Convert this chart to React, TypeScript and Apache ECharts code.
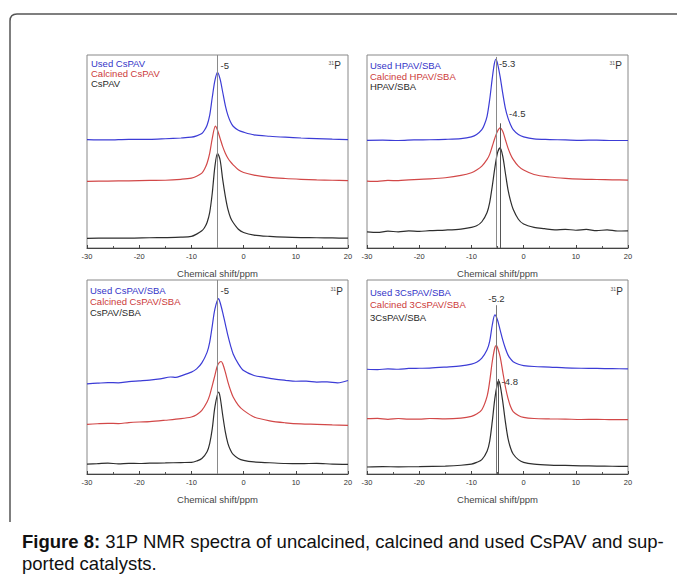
import React, { useEffect, useRef } from "react";
import * as echarts from "echarts";

// ---------- data (ppm, intensity on a 0-100 panel scale) ----------
const xMin = -30;
const xMax = 20;
const xInterval = 10;

const usedCsPAV = [[-30,56.2],[-26,56.0],[-22,56.3],[-18,56.3],[-15,56.6],[-12,57.0],[-10,57.4],[-9,58.1],[-8,59.3],[-7.5,61.0],[-7,63.6],[-6.5,68.7],[-6,78.1],[-5.5,86.7],[-5,91],[-4.5,87.5],[-4,80.7],[-3.5,73.8],[-3,68.7],[-2.5,65.3],[-2,63.1],[-1,61.0],[0,60.0],[2,58.6],[5,57.9],[8,57.4],[11,57.0],[14,56.7],[17,56.4],[20,56.2]];
const calcinedCsPAV = [[-30,34.5],[-26,34.7],[-22,34.8],[-18,35.0],[-15,35.1],[-12,35.6],[-10,36.2],[-9,37.2],[-8,38.8],[-7.5,40.8],[-7,43.9],[-6.5,49.0],[-6,56.8],[-5.4,63.1],[-5,61.0],[-4.5,56.8],[-4,52.5],[-3.5,49.1],[-3,46.5],[-2.5,44.6],[-2,43.1],[-1,40.5],[0,39.1],[2,37.8],[5,36.6],[8,36.0],[11,35.6],[14,35.3],[17,35.1],[20,34.9]];
const freshCsPAV = [[-30,5.0],[-26,5.1],[-22,5.1],[-18,5.3],[-15,5.4],[-12,5.6],[-10,6.0],[-9,7.2],[-8,8.9],[-7.5,10.5],[-7,13.2],[-6.5,18.3],[-6,28.5],[-5.5,42.2],[-5,49.1],[-4.5,45.6],[-4,35.4],[-3.5,26.8],[-3,20.0],[-2.5,15.7],[-2,13.2],[-1,9.7],[0,8.0],[2,6.7],[5,6.0],[8,5.6],[11,5.4],[14,5.3],[17,5.2],[20,5.1]];

const usedHPAV = [[-30,55.8],[-27,55.9],[-24,55.7],[-21,56.0],[-18,56.1],[-15,56.3],[-12,56.7],[-10,57.6],[-9,58.8],[-8,61.3],[-7.5,64.0],[-7,68.2],[-6.5,76.8],[-6,88.0],[-5.6,95.5],[-5.3,97.8],[-5,95.7],[-4.5,88.8],[-4,80.2],[-3.5,72.5],[-3,67.4],[-2.5,63.9],[-2,61.3],[-1,58.8],[0,57.6],[2,56.5],[5,56.2],[8,56.0],[11,55.8],[14,55.9],[17,55.7],[20,55.7]];
const calcinedHPAV = [[-30,34.7],[-28,34.5],[-26,35.0],[-24,34.9],[-22,35.3],[-20,35.6],[-18,35.8],[-15,36.4],[-12,37.6],[-10,39.0],[-9,40.4],[-8,42.4],[-7,45.9],[-6.5,48.5],[-6,52.7],[-5.5,57.0],[-5,60.5],[-4.5,62.2],[-4,60.5],[-3.5,56.2],[-3,51.9],[-2.5,48.5],[-2,45.9],[-1,42.4],[0,40.4],[2,38.1],[5,36.8],[8,36.1],[11,35.7],[14,35.5],[17,35.3],[20,35.2]];
const freshHPAV = [[-30,8.4],[-28,8.1],[-26,8.7],[-24,8.4],[-22,8.9],[-20,8.6],[-18,9.0],[-15,9.3],[-12,9.8],[-10,10.7],[-9,11.5],[-8,13.6],[-7,18.4],[-6.5,23.5],[-6,32.1],[-5.5,41.6],[-5,49.3],[-4.5,51.9],[-4,47.6],[-3.5,39.0],[-3,30.4],[-2.5,24.4],[-2,20.1],[-1,14.9],[0,12.4],[2,10.7],[4,10.0],[6,9.4],[8,9.7],[10,9.2],[12,9.6],[14,9.0],[16,9.4],[18,8.8],[20,8.9]];

const usedCsPAVSBA = [[-30,46.5],[-28,46.8],[-26,47.1],[-24,47.0],[-22,47.6],[-20,48.0],[-18,48.4],[-16,49.0],[-14,50.0],[-13,49.8],[-12,50.6],[-10,52.5],[-9,54.2],[-8,57.3],[-7,62.7],[-6.5,67.9],[-6,76.4],[-5.5,85.0],[-4.8,90.4],[-4.5,88.4],[-4,83.2],[-3.5,77.3],[-3,71.3],[-2.5,66.2],[-2,61.9],[-1,56.8],[0,53.3],[2,50.8],[4,49.8],[6,48.9],[8,48.3],[10,47.8],[12,47.9],[14,47.4],[16,47.5],[18,47.0],[20,48.2]];
const calcinedCsPAVSBA = [[-30,25.6],[-28,25.9],[-26,26.1],[-24,26.0],[-22,26.5],[-20,26.8],[-18,27.0],[-15,27.7],[-12,28.5],[-10,29.4],[-9,30.6],[-8,32.8],[-7,37.1],[-6.5,40.5],[-6,45.6],[-5.5,50.8],[-5,55.9],[-4.3,58.0],[-4,56.8],[-3.5,52.5],[-3,47.4],[-2.5,43.1],[-2,39.7],[-1,35.4],[0,32.8],[2,29.4],[5,27.4],[8,26.4],[11,25.8],[14,25.6],[17,25.3],[20,25.1]];
const freshCsPAVSBA = [[-30,5.1],[-28,5.3],[-26,5.6],[-24,5.2],[-22,5.5],[-20,5.4],[-18,5.6],[-15,5.7],[-12,5.9],[-10,6.0],[-9,6.7],[-8,8.0],[-7,11.5],[-6.5,15.7],[-6,23.4],[-5.5,34.5],[-4.8,42.2],[-4.5,39.7],[-4,30.3],[-3.5,21.7],[-3,15.7],[-2.5,12.3],[-2,10.1],[-1,8.0],[0,7.0],[2,6.2],[5,5.8],[8,5.4],[11,5.3],[14,5.5],[17,5.1],[20,5.0]];

const used3CsPAVSBA = [[-30,54.0],[-28,53.8],[-26,54.2],[-24,54.0],[-22,54.4],[-20,54.5],[-18,54.6],[-15,55.1],[-12,55.7],[-10,56.6],[-9,57.6],[-8,59.7],[-7,64.0],[-6.5,68.3],[-6,76.8],[-5.5,82.0],[-5,79.4],[-4.5,74.3],[-4,69.1],[-3.5,64.8],[-3,61.4],[-2.5,59.3],[-2,57.9],[-1,56.6],[0,55.9],[2,55.4],[5,55.1],[8,54.7],[11,54.5],[14,54.4],[17,54.3],[20,54.2]];
const calcined3CsPAVSBA = [[-30,28.5],[-28,28.7],[-26,28.2],[-24,28.6],[-22,28.3],[-20,28.3],[-18,28.6],[-15,28.4],[-12,28.8],[-10,29.7],[-9,30.9],[-8,33.1],[-7,40.0],[-6.5,47.7],[-6,58.0],[-5.5,65.2],[-5.2,66.2],[-5,65.2],[-4.5,60.5],[-4,52.8],[-3.5,45.1],[-3,39.1],[-2.5,34.8],[-2,32.2],[-1,30.2],[0,29.2],[2,28.6],[5,28.4],[8,28.3],[11,28.1],[14,28.2],[17,28.0],[20,28.0]];
const fresh3CsPAVSBA = [[-30,3.6],[-27,3.8],[-24,3.7],[-20,3.8],[-15,4.1],[-12,4.5],[-10,5.1],[-9,6.0],[-8,7.4],[-7,11.7],[-6.5,16.8],[-6,27.1],[-5.5,39.1],[-5,46.8],[-4.8,48.0],[-4.5,46.0],[-4,37.4],[-3.5,27.1],[-3,18.5],[-2.5,13.4],[-2,10.3],[-1,7.4],[0,6.0],[2,5.1],[5,4.6],[8,4.4],[11,4.2],[14,4.1],[17,4.0],[20,3.9]];

const panelNames = [
  ["Used CsPAV", "Calcined CsPAV", "CsPAV"],
  ["Used HPAV/SBA", "Calcined HPAV/SBA", "HPAV/SBA"],
  ["Used CsPAV/SBA", "Calcined CsPAV/SBA", "CsPAV/SBA"],
  ["Used 3CsPAV/SBA", "Calcined 3CsPAV/SBA", "3CsPAV/SBA"],
];
const panelSeries = [
  [usedCsPAV, calcinedCsPAV, freshCsPAV],
  [usedHPAV, calcinedHPAV, freshHPAV],
  [usedCsPAVSBA, calcinedCsPAVSBA, freshCsPAVSBA],
  [used3CsPAVSBA, calcined3CsPAVSBA, fresh3CsPAVSBA],
];
const peakShifts = [[-5], [-5.3, -4.5], [-5], [-5.2, -4.8]];
const peakLabels = [["-5"], ["-5.3", "-4.5"], ["-5"], ["-5.2", "-4.8"]];

const axisTitle = "Chemical shift/ppm";
const nucleusMass = "31";
const nucleusSymbol = "P";
const captionBold = "Figure 8:";
const captionLine1 = " 31P NMR spectra of uncalcined, calcined and used CsPAV and sup-";
const captionLine2 = "ported catalysts.";

// ---------- layout / style ----------
const FONT = "Liberation Sans, Arial, sans-serif";
const lineColors = ["#3c3cd6", "#d24848", "#2e2e2e"];
const textColors = ["#3434c8", "#cc3a3a", "#2a2a2a"];
const grids = [
  { left: 87, top: 55, width: 261, height: 193 },
  { left: 367, top: 55, width: 261, height: 193 },
  { left: 87, top: 280, width: 261, height: 194 },
  { left: 367, top: 280, width: 261, height: 194 },
];
const legendLayout = [
  { x: 91, ys: [63.5, 73.5, 83.5] },
  { x: 370, ys: [65, 76, 86.5] },
  { x: 90, ys: [290, 301, 312] },
  { x: 370, ys: [292, 304.5, 317] },
];
const nucleusLayout = [
  { x: 341, y: 65 },
  { x: 622, y: 65 },
  { x: 343, y: 291 },
  { x: 623, y: 291 },
];
// per marker: top of the drawn line, label y, label placement
const markerLayout = [
  [{ top: 100, ly: 94.8, pos: "right", dist: 3, color: "#8a8a8a" }],
  [
    { top: 99, ly: 95.7, pos: "right", dist: 3, color: "#8a8a8a" },
    { top: 64.6, ly: 69.8, pos: "right", dist: 9, color: "#555" },
  ],
  [{ top: 100, ly: 94.8, pos: "right", dist: 3, color: "#8a8a8a" }],
  [
    { top: 87, ly: 90.6, pos: "inside", dist: 0, color: "#777" },
    { top: 49, ly: 47.6, pos: "right", dist: 3, color: "#555" },
  ],
];

echarts.graphic.registerShape(
  "frameShape",
  echarts.graphic.extendPath("M10 522 L10 21 Q10 14 17 14 L677 14", {})
);

function buildOption() {
  const xAxis: any[] = [];
  const yAxis: any[] = [];
  const series: any[] = [];
  const graphic: any[] = [];

  grids.forEach((g, i) => {
    xAxis.push({
      type: "value",
      gridIndex: i,
      min: xMin,
      max: xMax,
      interval: xInterval,
      name: axisTitle,
      nameLocation: "middle",
      nameGap: 20,
      nameTextStyle: { fontSize: 9.5, color: "#444", fontFamily: FONT },
      axisLine: { show: true, lineStyle: { color: "#444", width: 1 } },
      axisTick: { show: true, inside: true, length: 3, lineStyle: { color: "#444" } },
      minorTick: { show: true, splitNumber: 2, length: 2, lineStyle: { color: "#555" } },
      axisLabel: { fontSize: 7.5, color: "#333", margin: 4, fontFamily: FONT },
      splitLine: { show: false },
    });
    yAxis.push({ type: "value", gridIndex: i, min: 0, max: 100, show: false });

    panelSeries[i].forEach((data, k) => {
      const s: any = {
        type: "line",
        name: panelNames[i][k],
        xAxisIndex: i,
        yAxisIndex: i,
        data,
        smooth: 0.3,
        showSymbol: false,
        silent: true,
        lineStyle: { color: lineColors[k], width: 1.2 },
        z: 3,
      };
      if (k === 2) {
        s.markLine = {
          silent: true,
          symbol: ["none", "none"],
          label: { show: false },
          data: peakShifts[i].map((ppm, m) => [
            { coord: [ppm, 0], lineStyle: { color: markerLayout[i][m].color, width: 1, type: "solid" } },
            { coord: [ppm, markerLayout[i][m].top] },
          ]),
        };
        s.markPoint = {
          silent: true,
          symbol: "circle",
          symbolSize: 0,
          data: peakShifts[i].map((ppm, m) => ({
            name: peakLabels[i][m],
            coord: [ppm, markerLayout[i][m].ly],
            label: {
              show: true,
              position: markerLayout[i][m].pos,
              distance: markerLayout[i][m].dist,
              formatter: (p: any) => p.name,
              fontSize: 9.5,
              color: "#333",
              fontFamily: FONT,
            },
          })),
        };
      }
      series.push(s);
    });

    // legend texts
    panelNames[i].forEach((nm, k) => {
      graphic.push({
        type: "text",
        x: legendLayout[i].x,
        y: legendLayout[i].ys[k],
        silent: true,
        style: {
          text: nm,
          fill: textColors[k],
          fontSize: 9.5,
          fontFamily: FONT,
          verticalAlign: "middle",
          align: "left",
        },
      });
    });

    // nucleus label: small mass number + element symbol
    graphic.push({
      type: "text",
      x: nucleusLayout[i].x - 7,
      y: nucleusLayout[i].y - 2,
      silent: true,
      style: {
        text: nucleusMass,
        align: "right",
        verticalAlign: "middle",
        fill: "#555",
        fontSize: 5,
        fontFamily: FONT,
      },
    });
    graphic.push({
      type: "text",
      x: nucleusLayout[i].x,
      y: nucleusLayout[i].y,
      silent: true,
      style: {
        text: nucleusSymbol,
        align: "right",
        verticalAlign: "middle",
        fill: "#333",
        fontSize: 10,
        fontFamily: FONT,
      },
    });
  });

  graphic.push({
    type: "frameShape",
    x: 0,
    y: 0,
    silent: true,
    style: { fill: "none", stroke: "#555", lineWidth: 1.5 },
  });
  graphic.push({
    type: "text",
    x: 22,
    y: 541,
    silent: true,
    style: {
      text: `{b|${captionBold}}${captionLine1}`,
      fontSize: 18.5,
      fontFamily: FONT,
      fill: "#111",
      verticalAlign: "middle",
      rich: { b: { fontWeight: "bold", fontSize: 18.5, fontFamily: FONT, fill: "#111" } },
    },
  });
  graphic.push({
    type: "text",
    x: 22,
    y: 563,
    silent: true,
    style: {
      text: captionLine2,
      fontSize: 18.5,
      fontFamily: FONT,
      fill: "#111",
      verticalAlign: "middle",
    },
  });

  return {
    animation: false,
    backgroundColor: "#ffffff",
    grid: grids.map((g) => ({ ...g, show: true, borderColor: "#888", borderWidth: 1, backgroundColor: "transparent" })),
    xAxis,
    yAxis,
    series,
    graphic,
  };
}

export default function App() {
  const ref = useRef<HTMLDivElement>(null);
  useEffect(() => {
    document.body.style.margin = "0";
    if (!ref.current) return;
    const chart = echarts.init(ref.current, undefined, { renderer: "svg" });
    chart.setOption(buildOption() as any);
    return () => chart.dispose();
  }, []);
  return <div ref={ref} style={{ width: 677, height: 574 }} />;
}
